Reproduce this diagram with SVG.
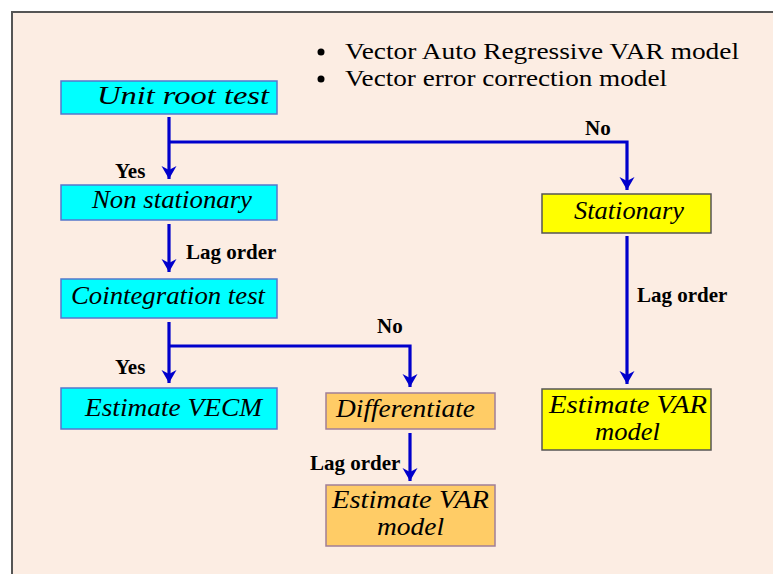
<svg xmlns="http://www.w3.org/2000/svg" width="773" height="574" viewBox="0 0 773 574">
<style>
.node{stroke-width:1.5}
.cyan{fill:#00FFFF;stroke:#5577CC}
.orange{fill:#FFCC66;stroke:#A07F98}
.yellow{fill:#FFFF00;stroke:#555555}
text{font-family:"Liberation Serif","DejaVu Serif",serif;fill:#000}
.nt{font-style:italic;font-size:26px}
.lbl{font-weight:bold;font-size:21px}
.bul{font-size:24px}
.conn{fill:none;stroke:#0000CC;stroke-width:3.2}
</style>
<defs>
<marker id="arrow" viewBox="0 0 16 16" refX="14" refY="8" markerWidth="16" markerHeight="16" markerUnits="userSpaceOnUse" orient="auto">
<path d="M1,0.5 L14,8 L1,15.5 L5,8 Z" fill="#0000CC"/>
</marker>
</defs>
<rect x="0" y="0" width="773" height="574" fill="#FFFFFF"/>
<rect x="12" y="12" width="780" height="580" fill="#FCEDE3" stroke="#555555" stroke-width="2"/>
<g id="legend">
<circle cx="321" cy="52" r="3.5" fill="#000"/>
<text class="bul" x="345" y="59" textLength="394" lengthAdjust="spacingAndGlyphs">Vector Auto Regressive VAR model</text>
<circle cx="321" cy="79" r="3.5" fill="#000"/>
<text class="bul" x="345" y="86" textLength="322" lengthAdjust="spacingAndGlyphs">Vector error correction model</text>
</g>
<g id="connectors">
<path class="conn" d="M169,117 V179" marker-end="url(#arrow)"/>
<path class="conn" d="M169,142 H627 V190" marker-end="url(#arrow)"/>
<path class="conn" d="M169,224 V272" marker-end="url(#arrow)"/>
<path class="conn" d="M169,322 V383" marker-end="url(#arrow)"/>
<path class="conn" d="M169,346 H410 V387" marker-end="url(#arrow)"/>
<path class="conn" d="M410,433 V481" marker-end="url(#arrow)"/>
<path class="conn" d="M627,236 V384" marker-end="url(#arrow)"/>
<text class="lbl" x="115" y="178">Yes</text>
<text class="lbl" x="585" y="135">No</text>
<text class="lbl" x="186" y="259">Lag order</text>
<text class="lbl" x="115" y="374">Yes</text>
<text class="lbl" x="377" y="333">No</text>
<text class="lbl" x="310" y="470">Lag order</text>
<text class="lbl" x="637" y="302">Lag order</text>
</g>
<g id="unit-root-test">
<rect class="node cyan" x="61" y="81" width="216" height="33"/>
<text class="nt" x="97" y="104" textLength="172" lengthAdjust="spacingAndGlyphs">Unit root test</text>
</g>
<g id="non-stationary">
<rect class="node cyan" x="61" y="185" width="216" height="35"/>
<text class="nt" x="92" y="208" textLength="160" lengthAdjust="spacingAndGlyphs">Non stationary</text>
</g>
<g id="cointegration-test">
<rect class="node cyan" x="61" y="279" width="216" height="39"/>
<text class="nt" x="71" y="304" textLength="194" lengthAdjust="spacingAndGlyphs">Cointegration test</text>
</g>
<g id="estimate-vecm">
<rect class="node cyan" x="61" y="388" width="216" height="41"/>
<text class="nt" x="85" y="416" textLength="177" lengthAdjust="spacingAndGlyphs">Estimate VECM</text>
</g>
<g id="differentiate">
<rect class="node orange" x="326" y="393" width="169" height="36"/>
<text class="nt" x="336" y="417" textLength="139" lengthAdjust="spacingAndGlyphs">Differentiate</text>
</g>
<g id="estimate-var-left">
<rect class="node orange" x="326" y="485" width="169" height="61"/>
<text class="nt" x="332" y="508" textLength="157" lengthAdjust="spacingAndGlyphs">Estimate VAR</text>
<text class="nt" x="377" y="535" textLength="67" lengthAdjust="spacingAndGlyphs">model</text>
</g>
<g id="stationary">
<rect class="node yellow" x="542" y="194" width="169" height="39"/>
<text class="nt" x="574" y="219" textLength="110" lengthAdjust="spacingAndGlyphs">Stationary</text>
</g>
<g id="estimate-var-right">
<rect class="node yellow" x="542" y="389" width="169" height="61"/>
<text class="nt" x="549" y="413" textLength="158" lengthAdjust="spacingAndGlyphs">Estimate VAR</text>
<text class="nt" x="595" y="440" textLength="65" lengthAdjust="spacingAndGlyphs">model</text>
</g>
</svg>
